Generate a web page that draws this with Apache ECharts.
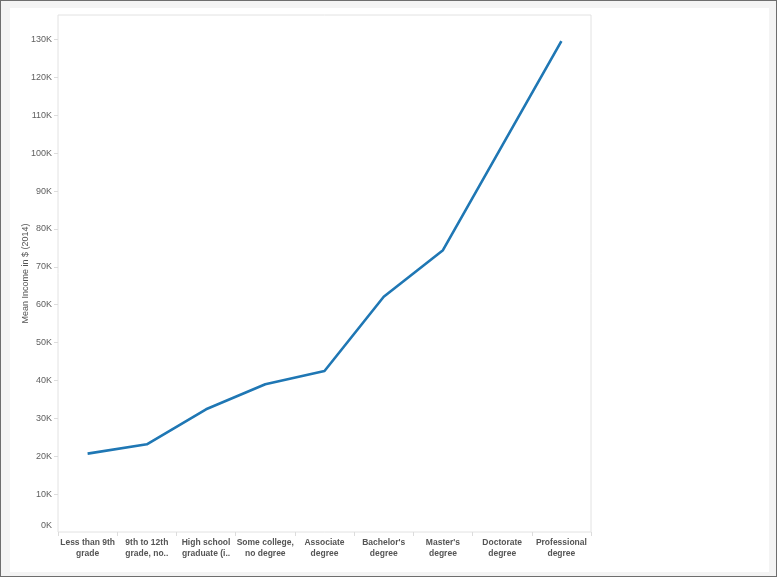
<!DOCTYPE html>
<html>
<head>
<meta charset="utf-8">
<script src="https://cdn.jsdelivr.net/npm/echarts@6/dist/echarts.min.js"></script>
<style>
html,body{margin:0;padding:0;background:#fff;}
#frame{position:absolute;left:0;top:0;width:777px;height:577px;box-sizing:border-box;border:1px solid #6e6e6e;background:#f4f4f4;}
#chart{position:absolute;left:10px;top:8px;width:759px;height:564px;background:#fff;}
</style>
</head>
<body>
<div id="frame"></div>
<div id="chart"></div>
<script>
var categories = [
  "Less than 9th\ngrade",
  "9th to 12th\ngrade, no..",
  "High school\ngraduate (i..",
  "Some college,\nno degree",
  "Associate\ndegree",
  "Bachelor's\ndegree",
  "Master's\ndegree",
  "Doctorate\ndegree",
  "Professional\ndegree"
];
var meanIncome = [20700, 23150, 32400, 39000, 42500, 62100, 74400, 102000, 129600];
var yTicks = [0, 10000, 20000, 30000, 40000, 50000, 60000, 70000, 80000, 90000, 100000, 110000, 120000, 130000];
var yTitle = "Mean Income in $ (2014)";

var chart = echarts.init(document.getElementById('chart'), null, {renderer: 'canvas'});
chart.setOption({
  animation: false,
  grid: {left: 48, top: 7, width: 533, height: 517, containLabel: false, outerBoundsMode: 'none', show: true, borderColor: '#e2e2e2', borderWidth: 1, backgroundColor: '#fff'},
  xAxis: {
    type: 'category',
    data: categories,
    boundaryGap: true,
    axisLine: {show: false},
    axisTick: {show: true, length: 4, lineStyle: {color: '#dcdcdc'}},
    axisLabel: {interval: 0, margin: 5, fontFamily: 'Liberation Sans, Arial, sans-serif', fontSize: 8.5, fontWeight: 'bold', color: '#555', lineHeight: 11},
    splitLine: {show: false}
  },
  yAxis: {
    type: 'value',
    min: 0,
    max: 136500,
    interval: 10000,
    name: yTitle,
    nameLocation: 'middle',
    nameGap: 28,
    nameMoveOverlap: false,
    nameRotate: 90,
    nameTextStyle: {fontFamily: 'Liberation Sans, Arial, sans-serif', fontSize: 9, color: '#555'},
    axisLine: {show: false},
    axisTick: {show: true, length: 4, lineStyle: {color: '#dcdcdc'}, customValues: yTicks.slice(1)},
    axisLabel: {
      customValues: yTicks,
      margin: 6,
      fontFamily: 'Liberation Sans, Arial, sans-serif', fontSize: 9, color: '#606060',
      formatter: function (v) { return v === 0 ? '{z|0K}' : (v / 1000) + 'K'; },
      rich: {z: {fontFamily: 'Liberation Sans, Arial, sans-serif', fontSize: 9, color: '#606060', padding: [0, 0, 12, 0]}}
    },
    splitLine: {show: false}
  },
  series: [{
    type: 'line',
    data: meanIncome,
    showSymbol: false,
    symbol: 'none',
    lineStyle: {color: '#1f77b4', width: 2.6},
    itemStyle: {color: '#1f77b4'}
  }]
});
</script>
</body>
</html>
